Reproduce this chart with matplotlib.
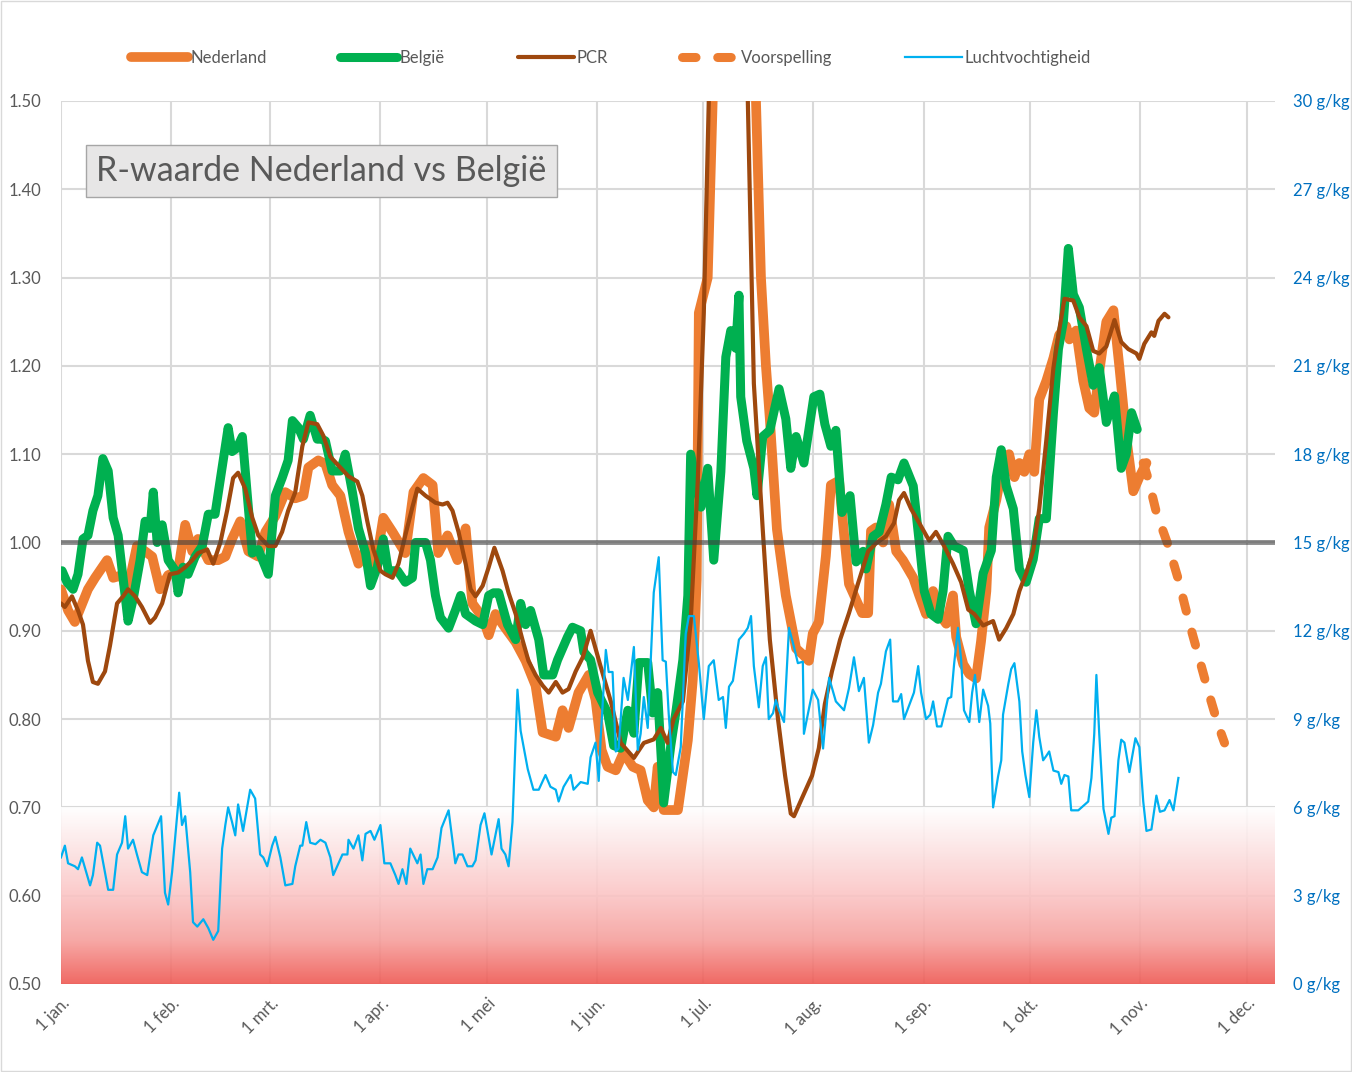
import matplotlib
matplotlib.use("Agg")
import matplotlib.pyplot as plt
import numpy as np
from matplotlib.colors import LinearSegmentedColormap
from matplotlib.patches import Rectangle

plt.rcParams["font.family"] = ["Lato", "DejaVu Sans"]

GREY = "#595959"

# day offsets from 1 jan 2021
month_days = [0, 31, 59, 90, 120, 151, 181, 212, 243, 273, 304, 334]
month_labels = ["1 jan.", "1 feb.", "1 mrt.", "1 apr.", "1 mei", "1 jun.",
                "1 jul.", "1 aug.", "1 sep.", "1 okt.", "1 nov.", "1 dec."]

nl_days = [0, 2.0, 3.9, 5.9, 7.6, 9.6, 13.0, 14.7, 17.2, 18.6,
           21.4, 23.7, 25.7, 27.9, 30.2, 33.0, 35.0, 37.0, 38.6, 41.5,
           44.3, 46.3, 48.2, 50.5, 52.8, 55.6, 57.6, 60.4, 63.2, 66.0,
           68.3, 69.7, 72.5, 74.5, 76.4, 78.7, 81.0, 83.8, 86.3, 88.6,
           90.8, 93.4, 97.0, 99.3, 102.1, 104.7, 106.3, 108.9, 111.7, 114.0,
           115.9, 118.8, 120.5, 122.4, 125.2, 128.1, 130.9, 133.7, 135.7, 139.4,
           141.3, 143.0, 145.8, 148.7, 150.6, 152.3, 154.0, 156.3, 158.5, 161.1,
           163.3, 165.3, 167.0, 168.1, 169.8, 173.8, 176.6, 178.0, 179.1, 179.7,
           182.2, 183.6, 185.9, 188.7, 192.1, 195.8, 197.2, 198.6, 199.7, 201.7,
           204.2, 207.1, 209.0, 210.7, 211.8, 213.5, 215.5, 216.9, 219.2, 220.6,
           222.0, 224.0, 225.7, 227.4, 228.2, 229.6, 231.6, 233.3, 235.3, 237.2,
           240.1, 241.8, 243.7, 245.7, 247.4, 249.4, 251.3, 252.2, 254.2, 255.9,
           257.8, 259.2, 260.7, 261.5, 263.5, 265.4, 267.1, 268.6, 270.0, 271.4,
           272.8, 274.2, 275.6, 277.6, 279.6, 281.2, 283.2, 284.1, 286.0, 288.0,
           289.7, 291.1, 292.5, 294.5, 296.5, 298.2, 300.1, 302.1, 303.8, 305.8]
nl_r = [0.947, 0.923, 0.91, 0.93, 0.947, 0.96, 0.98, 0.96, 0.963, 0.943,
        0.996, 0.99, 0.984, 0.947, 0.963, 0.968, 1.02, 0.99, 1.004, 0.98,
        0.98, 0.984, 1.004, 1.024, 0.99, 0.984, 1.012, 1.03, 1.057, 1.05,
        1.053, 1.085, 1.093, 1.089, 1.065, 1.053, 1.012, 0.976, 0.996, 0.972,
        1.028, 1.012, 0.988, 1.057, 1.073, 1.065, 0.988, 1.008, 0.98, 1.016,
        0.931, 0.915, 0.895, 0.919, 0.903, 0.887, 0.866, 0.838, 0.785, 0.78,
        0.81, 0.79, 0.83, 0.85, 0.822, 0.765, 0.746, 0.742, 0.762, 0.746,
        0.742, 0.708, 0.70, 0.746, 0.697, 0.697, 0.776, 0.845, 0.958, 1.26,
        1.30, 1.50, 1.75, 1.95, 1.80, 1.50, 1.30, 1.20, 1.14, 1.015,
        0.94, 0.88, 0.873, 0.866, 0.897, 0.91, 0.985, 1.065, 1.07, 1.01,
        0.953, 0.935, 0.92, 0.92, 1.013, 1.017, 1.0, 1.043, 0.99, 0.98,
        0.96, 0.94, 0.919, 0.945, 0.919, 0.908, 0.94, 0.893, 0.862, 0.851,
        0.846, 0.888, 0.945, 1.017, 1.048, 1.09, 1.10, 1.074, 1.09, 1.08,
        1.10, 1.08, 1.162, 1.183, 1.209, 1.235, 1.245, 1.23, 1.24, 1.183,
        1.152, 1.147, 1.193, 1.25, 1.263, 1.198, 1.12, 1.058, 1.074, 1.09]

be_days = [0.3, 1.7, 3.4, 4.8, 6.2, 7.6, 9.0, 10.4, 11.8, 13.3,
           14.7, 16.1, 17.5, 18.9, 20.3, 22.3, 23.7, 25.1, 26.0, 27.1,
           28.5, 30.2, 32.2, 33.0, 34.4, 35.8, 37.8, 39.8, 41.5, 43.4,
           45.4, 47.1, 48.2, 49.6, 51.1, 52.5, 53.9, 55.6, 58.4, 60.4,
           62.3, 64.0, 65.2, 66.9, 68.3, 70.2, 72.2, 73.6, 74.5, 76.4,
           78.7, 80.1, 82.1, 83.8, 85.8, 87.2, 89.1, 90.8, 92.2, 94.8,
           97.0, 99.0, 99.9, 102.7, 104.1, 105.5, 106.9, 109.2, 111.1, 112.6,
           114.0, 116.8, 118.8, 120.5, 121.9, 123.3, 125.8, 128.1, 129.5, 130.9,
           132.3, 134.6, 136.0, 138.5, 139.9, 142.7, 144.1, 146.4, 147.3, 149.2,
           151.2, 154.0, 155.7, 157.7, 159.7, 161.4, 162.8, 165.3, 166.7, 168.1,
           169.8, 171.8, 173.2, 175.2, 176.6, 177.4, 180.3, 182.2, 183.9, 185.9,
           187.3, 188.7, 190.1, 191.0, 191.5, 193.2, 195.2, 196.1, 197.7, 199.7,
           202.3, 204.2, 205.6, 207.1, 209.3, 212.1, 213.8, 215.2, 216.9, 218.3,
           220.0, 222.3, 224.0, 226.0, 226.8, 228.8, 230.5, 232.4, 233.9, 235.8,
           237.5, 240.1, 241.8, 243.2, 245.1, 247.1, 248.5, 249.9, 251.6, 254.2,
           255.9, 257.8, 259.8, 262.1, 263.5, 264.9, 266.3, 268.3, 270.0, 271.9,
           273.9, 275.6, 277.6, 279.6, 281.0, 282.4, 283.8, 285.2, 286.9, 288.9,
           290.8, 292.5, 294.5, 296.8, 298.7, 300.1, 301.6, 303.2]
be_r = [0.968, 0.955, 0.947, 0.964, 1.004, 1.008, 1.036, 1.053, 1.095, 1.081,
        1.028, 1.008, 0.96, 0.911, 0.935, 0.98, 1.024, 1.016, 1.057, 1.0,
        1.02, 0.98, 0.968, 0.943, 0.972, 0.964, 0.984, 0.996, 1.032, 1.032,
        1.085, 1.13, 1.103, 1.107, 1.12, 1.053, 0.988, 0.992, 0.964, 1.053,
        1.073, 1.093, 1.138, 1.13, 1.117, 1.144, 1.117, 1.117, 1.115, 1.081,
        1.081, 1.10, 1.057, 1.016, 0.988, 0.951, 0.972, 1.004, 0.968, 0.968,
        0.955, 0.96, 1.0, 1.0, 0.98, 0.94, 0.915, 0.903, 0.923, 0.94,
        0.919, 0.911, 0.907, 0.94, 0.943, 0.943, 0.907, 0.89, 0.931, 0.907,
        0.923, 0.89, 0.85, 0.85, 0.867, 0.893, 0.904, 0.90, 0.876, 0.867,
        0.83, 0.807, 0.77, 0.767, 0.81, 0.784, 0.864, 0.864, 0.807, 0.83,
        0.705, 0.77, 0.807, 0.867, 0.94, 1.10, 1.04, 1.084, 0.98, 1.08,
        1.21, 1.24, 1.22, 1.28, 1.165, 1.115, 1.084, 1.053, 1.12, 1.127,
        1.174, 1.14, 1.084, 1.12, 1.09, 1.165, 1.168, 1.134, 1.109, 1.127,
        1.034, 1.053, 0.978, 0.99, 0.97, 1.007, 1.012, 1.043, 1.074, 1.071,
        1.09, 1.064, 1.0, 0.945, 0.919, 0.913, 0.945, 1.007, 0.996, 0.991,
        0.945, 0.908, 0.965, 0.991, 1.074, 1.105, 1.064, 1.038, 0.97, 0.955,
        0.981, 1.027, 1.027, 1.147, 1.219, 1.25, 1.333, 1.281, 1.266, 1.219,
        1.178, 1.198, 1.136, 1.166, 1.084, 1.10, 1.147, 1.128]

pcr_days = [0, 1.1, 3.1, 4.8, 6.2, 7.6, 9.0, 10.4, 12.4, 13.8,
            15.8, 17.5, 18.9, 20.9, 22.8, 25.1, 26.5, 28.5, 30.7, 33.0,
            35.0, 37.0, 38.6, 41.2, 42.9, 44.9, 46.8, 48.5, 49.9, 51.9,
            53.9, 55.6, 58.4, 60.4, 62.3, 64.0, 66.0, 68.0, 69.7, 72.2,
            73.9, 75.9, 78.7, 81.0, 83.5, 84.9, 86.3, 88.0, 90.0, 91.4,
            93.4, 95.1, 97.0, 99.0, 100.4, 102.7, 105.5, 107.5, 108.9, 110.3,
            112.0, 114.0, 115.4, 116.8, 118.8, 120.5, 122.1, 124.4, 126.1, 128.1,
            130.0, 131.7, 133.7, 135.7, 137.4, 139.4, 141.3, 143.0, 145.0, 147.0,
            149.2, 152.0, 154.9, 157.7, 161.4, 164.2, 167.0, 169.0, 170.9, 172.6,
            175.2, 177.4, 179.4, 181.1, 182.5, 185.3, 188.7, 191.5, 193.5, 195.2,
            197.7, 199.7, 202.0, 204.0, 205.6, 206.5, 208.7, 211.6, 213.5, 215.2,
            217.2, 219.5, 222.0, 224.5, 227.4, 229.6, 232.4, 234.7, 236.1, 237.5,
            239.5, 241.8, 244.6, 246.5, 248.8, 251.3, 253.6, 255.6, 257.3, 259.8,
            262.6, 264.3, 266.3, 268.3, 270.0, 271.9, 273.9, 275.6, 277.6, 279.6,
            281.2, 282.7, 285.2, 286.9, 288.9, 290.8, 292.5, 294.5, 296.8, 298.7,
            300.7, 303.0, 303.8, 305.2, 307.2, 308.0, 309.2, 310.9, 312.0]
pcr_r = [0.931, 0.927, 0.939, 0.923, 0.907, 0.866, 0.842, 0.84, 0.854, 0.883,
         0.931, 0.939, 0.947, 0.939, 0.927, 0.909, 0.915, 0.931, 0.964, 0.966,
         0.972, 0.98, 0.988, 0.992, 0.976, 1.0, 1.036, 1.073, 1.079, 1.061,
         1.028, 1.008, 0.996, 0.996, 1.012, 1.036, 1.057, 1.109, 1.136, 1.134,
         1.121, 1.097, 1.085, 1.075, 1.069, 1.053, 1.024, 0.992, 0.968, 0.964,
         0.96, 0.976, 1.008, 1.04, 1.061, 1.053, 1.045, 1.043, 1.045, 1.036,
         1.012, 0.976, 0.947, 0.939, 0.951, 0.972, 0.994, 0.968, 0.943, 0.919,
         0.89, 0.866, 0.85, 0.838, 0.83, 0.842, 0.83, 0.834, 0.854, 0.87,
         0.90, 0.86, 0.82, 0.773, 0.756, 0.773, 0.777, 0.79, 0.773, 0.80,
         0.82, 0.91, 1.07, 1.26, 1.50, 1.85, 2.0, 1.80, 1.50, 1.18,
         1.015, 0.89, 0.80, 0.736, 0.693, 0.69, 0.71, 0.736, 0.767, 0.817,
         0.854, 0.89, 0.92, 0.953, 0.99, 0.999, 1.007, 1.022, 1.048, 1.056,
         1.038, 1.022, 1.002, 1.012, 0.996, 0.976, 0.955, 0.924, 0.919, 0.906,
         0.911, 0.89, 0.903, 0.919, 0.945, 0.965, 0.991, 1.038, 1.116, 1.198,
         1.24, 1.276, 1.274, 1.255, 1.245, 1.217, 1.214, 1.222, 1.252, 1.227,
         1.219, 1.214, 1.208, 1.225, 1.238, 1.234, 1.251, 1.259, 1.255]

fc_days = [304.9, 306.3, 308.6, 312.0, 314.8, 317.6, 320.5, 323.3, 326.1, 327.8]
fc_r = [1.09, 1.072, 1.034, 0.996, 0.958, 0.913, 0.871, 0.83, 0.792, 0.773]

hum_days = [0.0, 1.1, 2.0, 3.9, 4.8, 5.9, 8.2, 9.0, 10.2, 11.0,
            13.3, 14.7, 15.8, 17.2, 18.1, 18.9, 20.3, 21.4, 22.8, 24.3,
            26.0, 28.2, 29.3, 30.2, 31.3, 33.3, 34.1, 35.0, 36.4, 37.2,
            38.4, 40.1, 41.5, 42.9, 44.3, 45.4, 46.3, 47.1, 48.2, 49.1,
            49.9, 51.3, 53.3, 54.7, 56.1, 57.0, 58.1, 59.5, 60.4, 61.8,
            63.2, 65.2, 66.0, 67.4, 68.0, 69.1, 70.2, 71.7, 73.1, 74.5,
            75.9, 76.7, 79.3, 80.7, 81.0, 82.4, 83.8, 84.9, 85.8, 87.2,
            88.3, 90.0, 91.1, 92.8, 94.2, 95.1, 96.2, 97.3, 98.4, 100.4,
            101.3, 102.1, 103.2, 104.7, 106.1, 107.2, 109.2, 111.1, 112.0, 113.1,
            114.5, 115.9, 116.8, 118.2, 119.3, 121.3, 123.3, 124.1, 125.2, 126.1,
            127.2, 128.6, 129.5, 131.5, 133.1, 134.6, 136.5, 137.9, 139.4, 140.2,
            141.6, 143.6, 144.4, 146.4, 148.4, 149.2, 150.6, 151.5, 152.0, 153.5,
            154.3, 155.4, 156.3, 157.1, 158.5, 159.7, 161.4, 162.5, 163.3, 164.2,
            165.3, 167.0, 168.4, 169.5, 170.4, 171.2, 172.4, 173.2, 174.6, 176.0,
            176.9, 178.3, 179.7, 181.1, 182.5, 183.9, 185.3, 186.5, 187.3, 188.2,
            189.3, 191.0, 192.4, 193.5, 194.4, 195.2, 196.6, 197.7, 198.6, 199.4,
            200.6, 201.4, 202.3, 203.7, 205.1, 206.5, 207.6, 209.0, 209.3, 211.8,
            213.3, 214.7, 216.4, 218.3, 220.6, 222.0, 223.4, 224.8, 226.2, 227.6,
            228.8, 230.2, 231.0, 232.4, 233.6, 234.4, 235.8, 236.7, 237.5, 238.9,
            240.3, 241.5, 242.3, 243.7, 244.9, 245.7, 246.8, 248.0, 249.9, 250.8,
            251.6, 252.7, 253.6, 254.4, 255.9, 256.7, 257.5, 258.7, 259.8, 261.2,
            261.8, 262.6, 264.0, 264.9, 265.4, 266.9, 267.7, 268.6, 270.0, 270.8,
            271.7, 272.8, 273.9, 274.8, 275.6, 276.7, 277.6, 278.4, 279.6, 281.0,
            281.8, 282.7, 283.8, 284.6, 286.6, 288.0, 289.4, 290.3, 291.1, 291.7,
            292.5, 293.7, 295.1, 295.9, 296.8, 297.9, 298.7, 299.6, 301.0, 302.7,
            303.8, 304.9, 305.8, 307.2, 308.6, 309.6, 310.9, 312.3, 313.4, 314.8]
hum_gkg = [4.3, 4.7, 4.1, 4.0, 3.9, 4.3, 3.35, 3.7, 4.8, 4.7,
           3.2, 3.2, 4.4, 4.8, 5.7, 4.6, 4.9, 4.4, 3.8, 3.7,
           5.05, 5.7, 3.1, 2.7, 3.8, 6.5, 5.4, 5.7, 3.8, 2.1,
           1.95, 2.2, 1.9, 1.5, 1.8, 4.6, 5.4, 6.0, 5.5, 5.05,
           6.1, 5.2, 6.6, 6.3, 4.4, 4.3, 4.0, 4.7, 5.0, 4.3,
           3.35, 3.4, 4.0, 4.7, 4.7, 5.5, 4.8, 4.75, 4.9, 4.8,
           4.3, 3.7, 4.4, 4.4, 4.9, 4.6, 5.05, 4.2, 5.1, 5.2,
           4.9, 5.4, 4.1, 4.1, 3.7, 3.4, 3.9, 3.4, 4.6, 4.1,
           4.4, 3.4, 3.9, 3.9, 4.3, 5.3, 5.9, 4.1, 4.4, 4.4,
           4.0, 4.0, 4.2, 5.4, 5.8, 4.4, 5.6, 4.6, 4.4, 4.0,
           5.5, 10.0, 8.6, 7.3, 6.6, 6.6, 7.1, 6.7, 6.6, 6.2,
           6.7, 7.1, 6.6, 6.86, 6.8, 7.7, 8.2, 6.9, 8.26, 11.35,
           10.6, 10.6, 7.9, 8.0, 10.4, 9.65, 11.45, 7.95, 8.5, 9.75,
           8.7, 13.3, 14.5, 11.0, 10.95, 9.2, 7.2, 7.1, 8.05, 11.9,
           12.5, 12.5, 10.9, 9.0, 10.8, 11.0, 9.65, 9.75, 8.7, 10.1,
           10.3, 11.7, 11.9, 12.1, 12.5, 10.8, 9.4, 10.8, 11.1, 9.0,
           9.2, 9.65, 9.3, 8.9, 12.1, 11.45, 10.9, 10.95, 8.5, 10.0,
           9.65, 8.0, 10.4, 9.6, 9.3, 10.05, 11.1, 9.95, 10.4, 8.2,
           8.8, 9.9, 10.2, 11.3, 11.7, 9.6, 9.6, 9.85, 9.0, 9.45,
           9.9, 10.8, 9.9, 9.0, 9.15, 9.6, 8.75, 8.75, 9.7, 9.75,
           10.85, 12.1, 11.0, 9.3, 8.9, 9.9, 10.5, 8.9, 10.0, 9.45,
           8.85, 6.0, 7.05, 7.6, 9.15, 10.2, 10.7, 10.9, 9.6, 7.9,
           7.1, 6.35, 8.2, 9.3, 8.4, 7.6, 7.75, 7.9, 7.25, 7.2,
           6.8, 7.1, 7.05, 5.9, 5.9, 6.05, 6.2, 7.0, 8.5, 10.5,
           8.5, 5.95, 5.1, 5.65, 5.7, 7.6, 8.3, 8.2, 7.2, 8.35,
           8.05, 6.2, 5.2, 5.25, 6.4, 5.85, 5.9, 6.25, 5.9, 7.0]

fig = plt.figure(figsize=(13.52, 10.72), dpi=100)
ax = fig.add_axes([0.0451, 0.0821, 0.8979, 0.8237])
ax2 = ax.twinx()

# red danger zone below R = 0.7, white at the top, red at the bottom
cmap = LinearSegmentedColormap.from_list(
    "zone", [(0.0, "#ffffff"), (0.25, "#fce2e2"), (0.5, "#fbc4c4"),
             (0.75, "#f6a09d"), (1.0, "#ef5953")])
grad = np.linspace(0, 1, 256).reshape(-1, 1)
ax.imshow(grad, extent=[0, 342, 0.5, 0.7], aspect="auto", cmap=cmap,
          alpha=0.9, zorder=1, origin="upper")

ax.plot(nl_days, nl_r, color="#ed7d31", lw=7, solid_capstyle="round",
        solid_joinstyle="round", zorder=3, label="Nederland")
ax.plot(be_days, be_r, color="#00b050", lw=6.5, solid_capstyle="round",
        solid_joinstyle="round", zorder=4, label="België")
ax.plot(pcr_days, pcr_r, color="#9e480e", lw=3, solid_capstyle="round",
        solid_joinstyle="round", zorder=5, label="PCR")
ax.plot(fc_days, fc_r, color="#ed7d31", lw=6.5, linestyle=(0, (1.5, 2.4)),
        dash_capstyle="round", zorder=3, label="Voorspelling")
ax.axhline(1.0, color="#404040", alpha=0.6, lw=3.5, zorder=6)
ax2.plot(hum_days, hum_gkg, color="#00b0f0", lw=1.6, label="Luchtvochtigheid")

ax.set_xlim(0, 342)
ax.set_ylim(0.5, 1.5)
ax2.set_ylim(0, 30)

r_ticks = np.round(np.arange(0.5, 1.51, 0.1), 2)
ax.set_yticks(r_ticks)
ax.set_yticklabels([f"{v:.2f}" for v in r_ticks])
ax.set_xticks(month_days)
ax.set_xticklabels(month_labels, rotation=45, ha="right", va="top",
                   rotation_mode="anchor")
ax.grid(True, color="#d9d9d9", lw=1.5)
ax.set_axisbelow(True)
ax.tick_params(axis="y", length=0, pad=14, labelcolor=GREY, labelsize=12)
ax.tick_params(axis="x", length=0, pad=8, labelcolor=GREY, labelsize=12)

h_ticks = list(range(0, 31, 3))
ax2.set_yticks(h_ticks)
ax2.set_yticklabels([f"{v} g/kg" for v in h_ticks])
ax2.tick_params(axis="y", length=0, pad=13, labelcolor="#0070c0", labelsize=12)

for a in (ax, ax2):
    for s in a.spines.values():
        s.set_visible(False)

ax.text(0.2145, 0.921, "R-waarde Nederland vs België", transform=ax.transAxes,
        ha="center", va="center", fontsize=24.5, color=GREY, zorder=10,
        bbox=dict(boxstyle="square,pad=0.3", fc="#e7e6e6", ec="#a6a6a6", lw=1))

h1, l1 = ax.get_legend_handles_labels()
h2, l2 = ax2.get_legend_handles_labels()
fig.legend(h1 + h2, l1 + l2, loc="center", bbox_to_anchor=(611 / 1352, 1 - 58 / 1072),
           ncol=5, frameon=False, fontsize=12, handlelength=3.4, handletextpad=0.15,
           columnspacing=4.4, labelcolor=GREY)

fig.add_artist(Rectangle((0.0007, 0.0009), 0.9986, 0.9982, transform=fig.transFigure,
                         fill=False, ec="#d9d9d9", lw=1))

fig.savefig("out.png", dpi=100)
